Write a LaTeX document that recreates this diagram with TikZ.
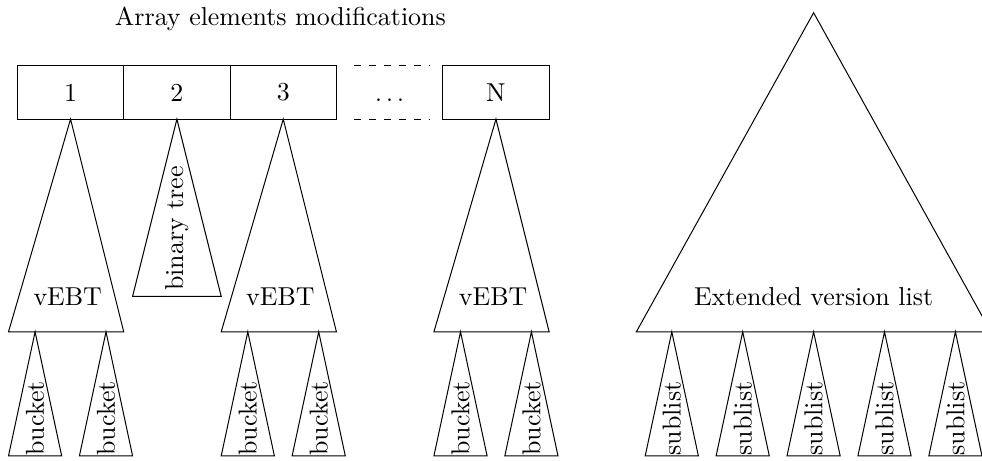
\documentclass[tikz,border=0pt]{standalone}
\usepackage{tikz}
\usetikzlibrary{calc,positioning}

\begin{document}
\begin{tikzpicture}[
    node distance=0pt and 0pt,%cells touch each other
    every node/.style={font=\fontsize{10.4}{12}\selectfont},
    cell/.style={
        rectangle, % shape
        minimum width=1.5cm, % size
        minimum height=0.75cm,
        inner sep=0pt, outer sep=0pt,
        draw % border
      },
    gap/.style={
        rectangle,
        minimum width=1.5cm,
        minimum height=0.75cm,
        inner sep=0pt, outer sep=0pt
      },
    sidetext/.style={
        rotate=90, % read from bottom to top
        anchor=west,
        inner sep=0pt}
  ]
  \useasboundingbox (-0.245,-4.81) rectangle (13.605,1.68);
  \clip (-0.245,-4.81) rectangle (13.605,1.68);
  % the array
  \node (c1) [cell,anchor=south west] at (0,0) {1};
  \node (c2) [cell,right=of c1] {2};
  \node (c3) [cell,right=of c2] {3};
  \node (cdots) [gap,right=of c3] {\vphantom{1}$\ldots$};
  \node (cN) [cell,right=of cdots] {N};
  \node (title) at (3.71,1.41) {Array elements modifications};
  \draw[dashed,shorten <=7pt,shorten >=5pt] (c3.north east) -- (cN.north west);
  \draw[dashed,shorten <=7pt,shorten >=5pt] (c3.south east) -- (cN.south west);
  % binary tree
  \draw (c2.south) -- ++(-0.625,-2.5) -- ++(1.25,0) -- cycle;
  \node (bt) [sidetext] at ($(c2.south)+(0,-2.43)$) {binary tree};
  % vEBT and buckets
  \foreach \c in {c1,c3,cN}{
    \draw (\c.south) -- ++(-0.875,-3) -- ++(1.625,0) -- cycle;
    \node (\c-vebt) at ($(\c.south)+(-0.04,-2.5)$) {vEBT};
    \foreach \dx/\i in {-0.5/1,0.5/2}{
      \draw ($(\c.south)+(\dx,-3)$) -- ++(-0.375,-1.75) -- ++(0.75,0) -- cycle;
      \node (\c-b\i) [sidetext] at ($(\c.south)+(\dx,-4.75)$) {bucket};
    }
  }
  % extended version list
  \coordinate (evl) at (11.23,1.5);
  \draw (evl) -- ++(-2.5,-4.5) -- ++(5,0) -- cycle;
  \node (evl-text) at ($(evl)+(0,-4)$) {Extended version list};
  \foreach \dx [count=\i] in {-2,...,2}{
    \draw ($(evl)+(\dx,-4.5)$) -- ++(-0.375,-1.75) -- ++(0.75,0) -- cycle;
    \node (sl\i) [sidetext] at ($(evl)+(\dx,-6.25)$) {sublist};
  }
\end{tikzpicture}
\end{document}
